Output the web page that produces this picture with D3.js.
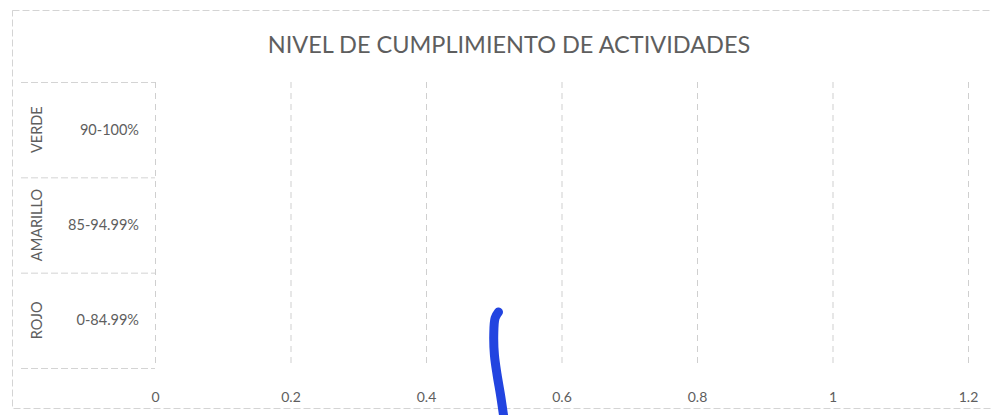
<!DOCTYPE html>
<html>
<head>
<meta charset="utf-8">
<script src="https://cdn.jsdelivr.net/npm/d3@7"></script>
<style>
  body { margin: 0; background: #fff; }
  text { font-family: Lato, "Open Sans", sans-serif; fill: #5e5e5e; }
</style>
</head>
<body>
<script>
const w = 992;
const h = 415;

// categorias (nivel externo / interno) y valores (vacios en el original)
const levels = ["VERDE", "AMARILLO", "ROJO"];
const ranges = ["90-100%", "85-94.99%", "0-84.99%"];
const values = [null, null, null];
const xTicks = [0, 0.2, 0.4, 0.6, 0.8, 1, 1.2];

// trazo a mano (boligrafo azul) en unidades del eje x
const penX = [0.507, 0.502, 0.5, 0.501, 0.505, 0.51, 0.515];
const penY = [312, 318, 335, 355, 375, 395, 418];

const plotLeft = 155, plotRight = 968, plotTop = 82, plotBottom = 368;

const svg = d3.select("body")
  .append("svg")
  .attr("width", w)
  .attr("height", h);

const xScale = d3.scaleLinear().domain([0, 1.2]).range([plotLeft, plotRight]);
const yScale = d3.scaleBand().domain(levels).range([plotTop, plotBottom]);

// borde del grafico
svg.append("rect")
  .attr("x", 12.5).attr("y", 10.5)
  .attr("width", 995).attr("height", 398)
  .attr("fill", "none")
  .attr("stroke", "#d4d4d4")
  .attr("stroke-dasharray", "7 3");

// titulo
svg.append("text")
  .text("NIVEL DE CUMPLIMIENTO DE ACTIVIDADES")
  .attr("x", 509)
  .attr("y", 53)
  .attr("text-anchor", "middle")
  .attr("font-size", "23.5px");

// rejilla vertical
svg.append("g")
  .selectAll("line")
  .data(xTicks.slice(1))
  .enter()
  .append("line")
  .attr("x1", d => xScale(d) + 0.5)
  .attr("x2", d => xScale(d) + 0.5)
  .attr("y1", plotTop)
  .attr("y2", plotBottom)
  .attr("stroke", "#cfcfcf")
  .attr("stroke-dasharray", "6 5");

// eje x
const xAxis = d3.axisBottom(xScale).tickValues(xTicks).tickFormat(d => String(d)).tickSize(0).tickPadding(0);
const gx = svg.append("g")
  .attr("transform", `translate(0, ${plotBottom + 34})`)
  .call(xAxis)
  .attr("font-size", null)
  .attr("font-family", null);
gx.select(".domain").remove();
gx.selectAll("text")
  .attr("dy", 0)
  .style("font-size", "14px")
  .style("fill", "#5e5e5e");

// eje de categorias (multinivel)
const cat = svg.append("g");
cat.append("line")
  .attr("x1", plotLeft + 0.5).attr("x2", plotLeft + 0.5)
  .attr("y1", plotTop).attr("y2", plotBottom)
  .attr("stroke", "#cfcfcf")
  .attr("stroke-dasharray", "6 5");
cat.selectAll(".sep")
  .data(levels.concat(["fin"]))
  .enter()
  .append("line")
  .attr("class", "sep")
  .attr("x1", 21).attr("x2", plotLeft)
  .attr("y1", d => (d === "fin" ? plotBottom : yScale(d)) + 0.5)
  .attr("y2", d => (d === "fin" ? plotBottom : yScale(d)) + 0.5)
  .attr("stroke", "#d4d4d4")
  .attr("stroke-dasharray", "7 3");

cat.selectAll(".outer")
  .data(levels)
  .enter()
  .append("text")
  .attr("class", "outer")
  .attr("transform", d => `translate(42, ${yScale(d) + yScale.bandwidth() / 2}) rotate(-90)`)
  .attr("text-anchor", "middle")
  .attr("font-size", "14.5px")
  .text(d => d);

cat.selectAll(".inner")
  .data(ranges)
  .enter()
  .append("text")
  .attr("class", "inner")
  .attr("x", 139)
  .attr("y", (d, i) => yScale(levels[i]) + yScale.bandwidth() / 2 + 5)
  .attr("text-anchor", "end")
  .attr("font-size", "14.5px")
  .text(d => d);

// barras (sin valores en el original)
svg.append("g")
  .selectAll("rect")
  .data(values.filter(v => v != null))
  .enter()
  .append("rect")
  .attr("x", xScale(0))
  .attr("width", d => xScale(d) - xScale(0));

// marca de boligrafo
const pen = d3.line()
  .x(d => xScale(d))
  .y((d, i) => penY[i])
  .curve(d3.curveCatmullRom);
svg.append("path")
  .attr("d", pen(penX))
  .attr("fill", "none")
  .attr("stroke", "#2244e0")
  .attr("stroke-width", 9)
  .attr("stroke-linecap", "round");
</script>
</body>
</html>
